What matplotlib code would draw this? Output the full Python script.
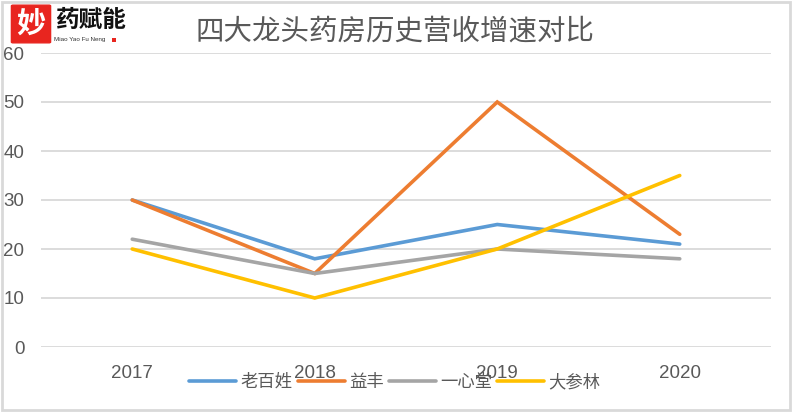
import matplotlib
matplotlib.use("Agg")
import matplotlib.pyplot as plt
from matplotlib.patches import Rectangle, FancyBboxPatch

CJK = ['Noto Sans CJK SC', 'DejaVu Sans']
plt.rcParams['font.family'] = ['Liberation Sans', 'Noto Sans CJK SC', 'DejaVu Sans']

years = ['2017', '2018', '2019', '2020']
names = ['老百姓', '益丰', '一心堂', '大参林']
laobaixing = [30, 18, 25, 21]
yifeng = [30, 15, 50, 23]
yixintang = [22, 15, 20, 18]
dashenlin = [20, 10, 20, 35]
colors = ['#5B9BD5', '#ED7D31', '#A5A5A5', '#FFC000']

fig = plt.figure(figsize=(7.92, 4.12), dpi=100)
ax = fig.add_axes([41 / 792, 1 - 347 / 412, 730 / 792, 294 / 412])

x = range(len(years))
for vals, name, c in zip([laobaixing, yifeng, yixintang, dashenlin], names, colors):
    ax.plot(x, vals, color=c, lw=2.6, label=name, solid_capstyle='round',
            solid_joinstyle='miter')

ax.set_xlim(-0.5, 3.5)
ax.set_ylim(0, 60)
ax.set_yticks(range(0, 61, 10))
ax.set_xticks(list(x))
ax.set_xticklabels(years)
ax.grid(axis='y', color='#d9d9d9', lw=1.3)
ax.set_axisbelow(True)
for s in ax.spines.values():
    s.set_visible(False)
ax.tick_params(length=0, labelsize=13.5, labelcolor='#595959')
ax.tick_params(axis='y', pad=12)
ax.tick_params(axis='x', pad=13)

leg = ax.legend(loc='center', bbox_to_anchor=(395 / 792, 1 - 382 / 412),
                bbox_transform=fig.transFigure, ncol=4, frameon=False,
                prop={'family': CJK, 'size': 12.5}, handlelength=2.7,
                handletextpad=0.25, columnspacing=0.3)
for t in leg.get_texts():
    t.set_color('#595959')

fig.text(395 / 792, 1 - 32 / 412, '四大龙头药房历史营收增速对比', family=CJK,
         fontsize=20.5, color='#595959', ha='center', va='center')

# logo
fig.patches.append(FancyBboxPatch((13 / 792, 1 - 42 / 412), 36 / 792, 36 / 412,
                                  boxstyle='round,pad=0.002', fc='#e8251f',
                                  ec='#e8251f', transform=fig.transFigure))
fig.text(31 / 792, 1 - 24 / 412, '妙', family=CJK, fontsize=21, color='white',
         weight='bold', ha='center', va='center')
fig.text(90 / 792, 1 - 20 / 412, '药赋能', family=CJK, fontsize=17, color='#111111',
         weight='black', ha='center', va='center')
fig.text(54 / 792, 1 - 40 / 412, 'Miao Yao Fu Neng', fontsize=4.5, color='#333333',
         ha='left', va='center')
fig.patches.append(Rectangle((112 / 792, 1 - 42 / 412), 4 / 792, 4 / 412,
                             fc='#e8251f', ec='none', transform=fig.transFigure))

# frame
fig.patches.append(Rectangle((1.5 / 792, 2.5 / 412), 788 / 792, 408 / 412, fill=False,
                             ec='#d9d9d9', lw=2, transform=fig.transFigure))

fig.savefig('out.png', dpi=100)
